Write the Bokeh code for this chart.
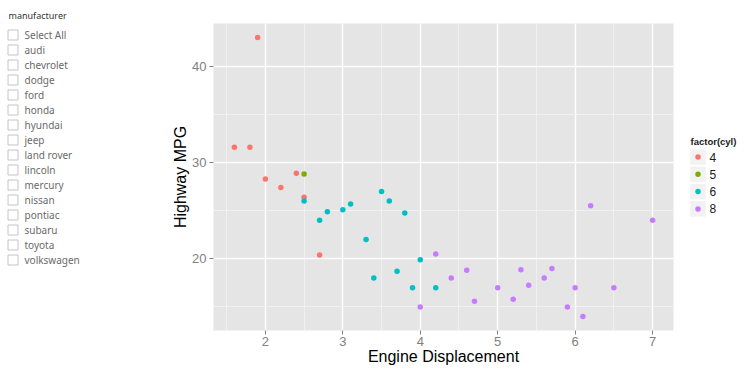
from bokeh.plotting import figure
from bokeh.layouts import row
from bokeh.models import Range1d, ColumnDataSource, SingleIntervalTicker
from bokeh.core.properties import value
from bokeh.embed import file_html
from bokeh.resources import INLINE

# ---------------- data ----------------
manufacturers = ["Select All", "audi", "chevrolet", "dodge", "ford", "honda", "hyundai",
                 "jeep", "land rover", "lincoln", "mercury", "nissan", "pontiac",
                 "subaru", "toyota", "volkswagen"]

cyl_levels = ["4", "5", "6", "8"]
cyl_colors = ["#F8766D", "#7CAE00", "#00BFC4", "#C77CFF"]

displ = [1.6, 1.8, 1.9, 2.0, 2.2, 2.4, 2.5, 2.7,
         2.5,
         2.5, 2.7, 2.8, 3.0, 3.1, 3.3, 3.4, 3.5, 3.6, 3.7, 3.8, 3.9, 4.0, 4.2,
         4.0, 4.2, 4.4, 4.6, 4.7, 5.0, 5.2, 5.3, 5.4, 5.6, 5.7, 5.9, 6.0, 6.1, 6.2, 6.5, 7.0]
hwy = [31.6, 31.6, 43.0, 28.3, 27.4, 28.9, 26.4, 20.4,
       28.8,
       26.0, 24.0, 24.9, 25.1, 25.7, 22.0, 18.0, 27.0, 26.0, 18.7, 24.75, 17.0, 19.9, 17.0,
       15.0, 20.5, 18.0, 18.8, 15.6, 17.0, 15.8, 18.85, 17.26, 18.0, 19.0, 15.0, 17.0, 14.0, 25.5, 17.0, 24.0]
cyl = ["4"] * 8 + ["5"] * 1 + ["6"] * 14 + ["8"] * 17

x_title = "Engine Displacement"
y_title = "Highway MPG"
legend_title = "factor(cyl)"
slicer_title = "manufacturer"

FIG_H = 378
BT, BB = 23, 48          # top / bottom borders shared by all panels
FRAME_TOP, FRAME_BOT = BT, FIG_H - BB
CHART_FONT = value("Liberation Sans")
UI_FONT = value("Noto Sans")


def side_panel(x0, width):
    f = figure(width=width, height=FIG_H, output_backend="svg", toolbar_location=None,
               x_axis_type=None, y_axis_type=None,
               min_border_left=0, min_border_right=0, min_border_top=BT, min_border_bottom=BB,
               x_range=Range1d(x0, x0 + width), y_range=Range1d(FRAME_BOT, FRAME_TOP))
    f.outline_line_color = None
    f.background_fill_color = "white"
    f.border_fill_color = "white"
    return f


# ---------------- left: slicer list ----------------
left = side_panel(0, 158)
left.title.text = slicer_title
left.title.align = "left"
left.title.offset = 8
left.title.standoff = 4
left.title.text_font = "Noto Sans"
left.title.text_font_size = "9px"
left.title.text_font_style = "normal"
left.title.text_color = "#333333"

ys = [34.5 + 15.0 * i for i in range(len(manufacturers))]
left.rect(x=[12.5] * len(manufacturers), y=ys, width=10, height=10,
          fill_color="white", line_color="#c4c4c4", line_width=1)
left.text(x=[24] * len(manufacturers), y=ys, text=manufacturers, text_font=UI_FONT,
          text_font_size="10px", text_color="#6a6a6a", text_baseline="middle",
          text_align="left")

# ---------------- main scatter ----------------
src = ColumnDataSource(dict(displ=displ, hwy=hwy, cyl=cyl,
                            color=[cyl_colors[cyl_levels.index(c)] for c in cyl]))

p = figure(width=520, height=FIG_H, output_backend="svg", toolbar_location=None,
           x_range=Range1d(1.33, 7.27), y_range=Range1d(12.55, 44.45),
           min_border_left=55, min_border_right=5, min_border_top=BT, min_border_bottom=BB)
p.outline_line_color = None
p.background_fill_color = "#E5E5E5"
p.border_fill_color = "white"

p.xaxis.ticker = SingleIntervalTicker(interval=1, num_minor_ticks=2)
p.yaxis.ticker = SingleIntervalTicker(interval=10, num_minor_ticks=2)

p.grid.grid_line_color = "white"
p.grid.grid_line_width = 1.4
p.grid.minor_grid_line_color = "#F2F2F2"
p.grid.minor_grid_line_width = 0.8

for ax in (p.xaxis[0], p.yaxis[0]):
    ax.axis_line_color = None
    ax.major_tick_line_color = "#7F7F7F"
    ax.major_tick_in = 0
    ax.major_tick_out = 4
    ax.minor_tick_line_color = None
    ax.major_label_text_font = "Liberation Sans"
    ax.major_label_text_font_size = "13px"
    ax.major_label_text_color = "#7F7F7F"
    ax.axis_label_text_font = "Liberation Sans"
    ax.axis_label_text_font_size = "16px"
    ax.axis_label_text_font_style = "normal"
    ax.axis_label_text_color = "black"

p.xaxis.axis_label = x_title
p.yaxis.axis_label = y_title
p.xaxis.major_label_standoff = 2
p.yaxis.major_label_standoff = 3
p.xaxis.axis_label_standoff = -1
p.yaxis.axis_label_standoff = 0

p.scatter(x="displ", y="hwy", fill_color="color", line_color=None, size=5.5, source=src)

# ---------------- legend panel ----------------
lg = side_panel(678, 64)
lg.text(x=[690], y=[141], text=[legend_title], text_font=CHART_FONT, text_font_size="9.5px",
        text_font_style="bold", text_color="#1a1a1a", text_baseline="middle", text_align="left")
ky = [156.5 + 17.3 * i for i in range(len(cyl_levels))]
lg.rect(x=[697.5] * len(cyl_levels), y=ky, width=16.5, height=16.5,
        fill_color="#F2F2F2", line_color="white", line_width=1)
lg.scatter(x=[697.5] * len(cyl_levels), y=ky, fill_color=cyl_colors, line_color=None, size=5.5)
lg.text(x=[709] * len(cyl_levels), y=ky, text=cyl_levels, text_font=CHART_FONT,
        text_font_size="12px", text_color="#1a1a1a", text_baseline="middle", text_align="left")

layout = row(left, p, lg)
open("out.html", "w").write(file_html(layout, INLINE))
